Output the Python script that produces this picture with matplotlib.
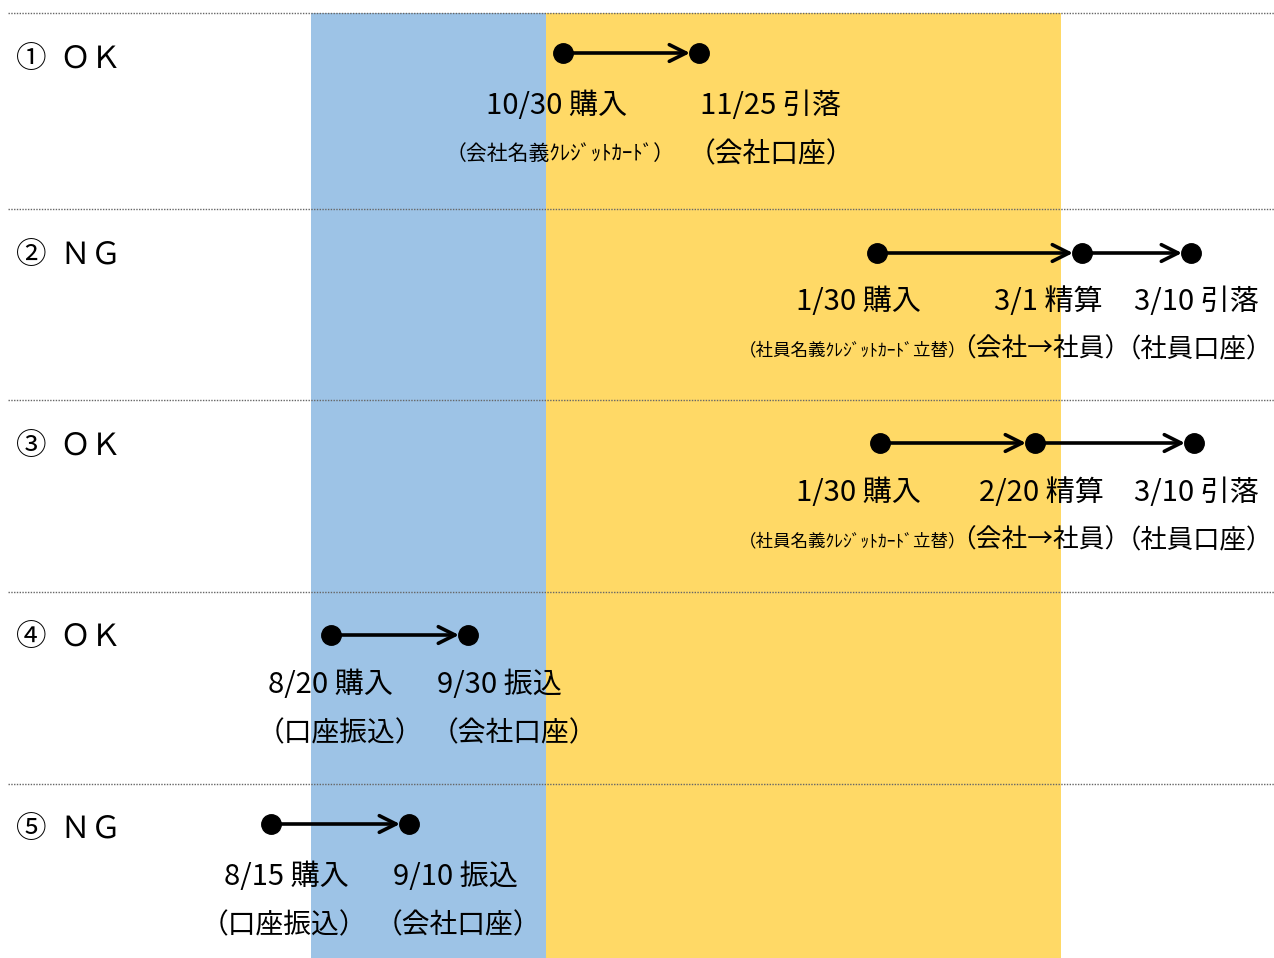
import matplotlib.pyplot as plt

plt.rcParams['font.family'] = ['Noto Sans CJK JP', 'DejaVu Sans']

# timeline coordinate (pixel scale of the original sheet)
blue_band = (311, 546)
yellow_band = (546, 1061)
row_tops = [13, 209, 400, 592, 784]

row_labels = ['①  ＯＫ', '②  ＮＧ', '③  ＯＫ', '④  ＯＫ', '⑤  ＮＧ']

# event positions on the timeline per case
event_x = [
    [563, 699],
    [877, 1082, 1191],
    [880, 1035, 1194],
    [331, 468],
    [271, 409],
]
event_dates = [
    ['10/30 購入', '11/25 引落'],
    ['1/30 購入', '3/1 精算', '3/10 引落'],
    ['1/30 購入', '2/20 精算', '3/10 引落'],
    ['8/20 購入', '9/30 振込'],
    ['8/15 購入', '9/10 振込'],
]
event_notes = [
    ['（会社名義ｸﾚｼﾞｯﾄｶｰﾄﾞ）', '（会社口座）'],
    ['（社員名義ｸﾚｼﾞｯﾄｶｰﾄﾞ立替）', '（会社→社員）', '（社員口座）'],
    ['（社員名義ｸﾚｼﾞｯﾄｶｰﾄﾞ立替）', '（会社→社員）', '（社員口座）'],
    ['（口座振込）', '（会社口座）'],
    ['（口座振込）', '（会社口座）'],
]
date_x = [
    [557, 770],
    [858, 1048, 1196],
    [858, 1041, 1196],
    [330, 499],
    [286, 455],
]
note_x = [
    [560, 771],
    [853, 1040, 1194],
    [853, 1040, 1194],
    [340, 514],
    [284, 458],
]
dot_offset = [40, 44, 43, 43, 40]
note_size = {'（会社名義ｸﾚｼﾞｯﾄｶｰﾄﾞ）': 15, '（社員名義ｸﾚｼﾞｯﾄｶｰﾄﾞ立替）': 12.6,
             '（会社→社員）': 18.5, '（社員口座）': 19}

fig = plt.figure(figsize=(12.74, 9.58), dpi=100)
ax = fig.add_axes([0, 0, 1, 1])
ax.set_xlim(0, 1274)
ax.set_ylim(958, 0)
ax.axis('off')

ax.axvspan(*blue_band, ymin=0, ymax=1 - row_tops[0] / 958, color='#9DC3E6', lw=0)
ax.axvspan(*yellow_band, ymin=0, ymax=1 - row_tops[0] / 958, color='#FFD966', lw=0)

for y in row_tops:
    ax.plot([8, 1274], [y, y], color='#666666', lw=1, ls=(0, (1, 1)))

for i, top in enumerate(row_tops):
    ax.text(16, top + 46, row_labels[i], fontsize=22, va='center', ha='left')
    dot_y = top + dot_offset[i]
    xs = event_x[i]
    for a, b in zip(xs[:-1], xs[1:]):
        ax.annotate('', xy=(b - 9, dot_y), xytext=(a, dot_y),
                    arrowprops=dict(arrowstyle='->,head_length=1.2,head_width=0.6',
                                    lw=2.6, color='black', shrinkA=0, shrinkB=0))
    ax.plot(xs, [dot_y] * len(xs), 'o', color='black', ms=14, ls='none')
    for j in range(len(xs)):
        ax.text(date_x[i][j], top + 93, event_dates[i][j], fontsize=21,
                ha='center', va='center')
        note = event_notes[i][j]
        ax.text(note_x[i][j], top + 141, note, fontsize=note_size.get(note, 20),
                ha='center', va='center')

fig.savefig('out.png', dpi=100)
